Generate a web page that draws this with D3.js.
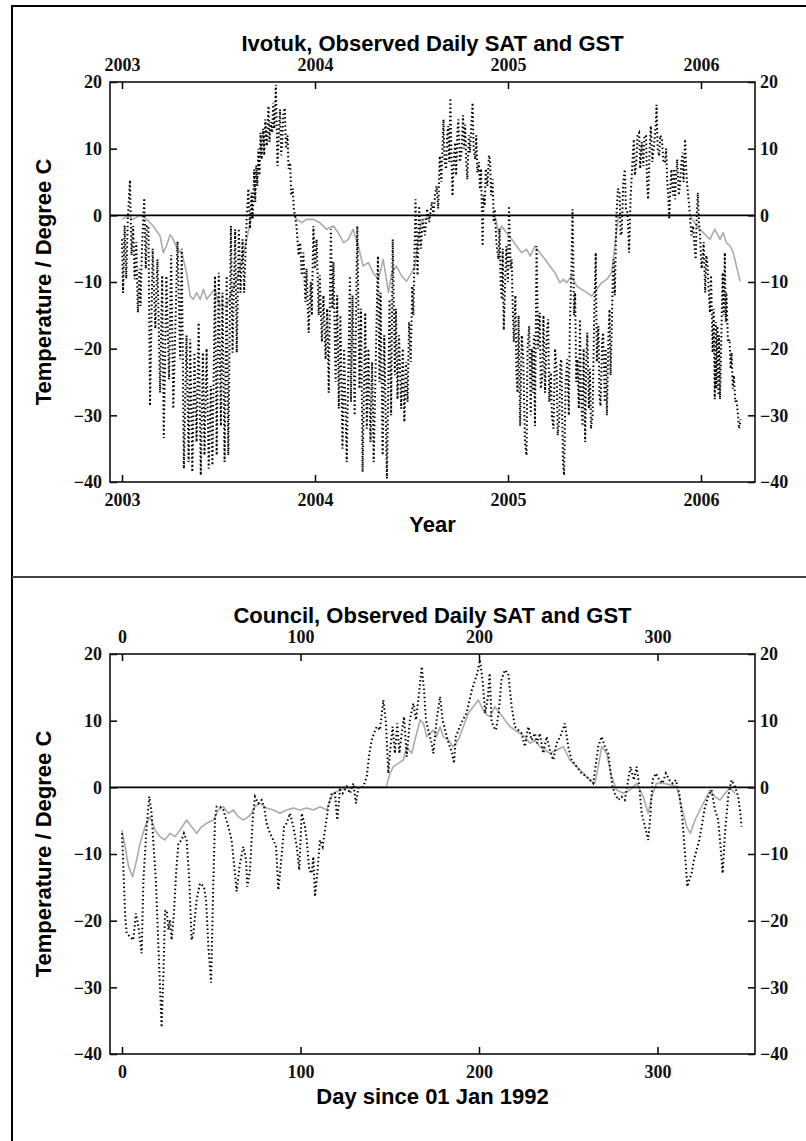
<!DOCTYPE html>
<html>
<head>
<meta charset="utf-8">
<script src="https://cdn.jsdelivr.net/npm/d3@7/dist/d3.min.js"></script>
<style>
  html, body { margin: 0; padding: 0; background: #fff; }
  svg { display: block; }
</style>
</head>
<body>
<svg id="chart" width="806" height="1141"></svg>
<script>
// ---- Ivotuk: [day since 1 Jan 2003, °C] ----
// Surface air temperature (daily swings)
const ivotukSat = [
  [0,-3.6],[2,-11.6],[5,-1.5],[8,-9.5],[11,-0.6],[15,5.3],[18,-6],[21,-1.6],[24,-9.6],[27,-4],[30,-14.6],[33,-8],[35,-13.6],[38,-4.6],[42,2.6],[45,-8],[47,-1.6],
  [50,-1.6],[53,-28.6],[58,-5],[63,-17],[67,-6.6],[72,-26.6],[76,-9],[79,-33.4],[84,-9.1],[89,-24.6],[93,-6],[97,-29],[105,-3.9],[110,-21.6],[113,-5],[117,-38],
  [122,-18],[126,-37],[129,-18.6],[133,-38.5],[137,-20.6],[141,-34],[145,-16.1],[149,-39],[153,-20.6],[156,-36],[160,-20],[164,-38],[168,-25.6],[171,-37.5],
  [176,-9.1],[179,-36],[183,-8.6],[187,-31.6],[190,-11.6],[194,-37],[198,-9.1],[201,-36],[206,-1.6],[209,-20.6],[214,-2.1],[217,-20.6],[221,-2],[224,-11.6],[228,-3.6],[231,-11.6],
  [236,0],[239,4],[242,-2],[245,3.4],[247,-0.6],[250,6.9],[252,2],[254,7.5],[256,4.4],[258,10],[260,6],[262,12.4],[264,8.4],[267,13],[269,9],[271,14.4],[274,10.4],[277,16.4],[279,11],[281,14],[284,12.4],[286,16.9],[288,13],[291,19.6],[293,12],[294,7.4],[297,13],[299,15.9],[301,9],[303,10.9],[305,15],[308,16.1],[310,10],[313,12],[315,7],[318,7.9],[320,3],[323,4],[325,1],[327,0],
  [330,-1.6],[334,-6],[337,-4.1],[340,-9],[343,-5.6],[347,-13],[349,-8],[353,-17.6],[357,-10],[359,-15],[362,-1.6],[365,-8],[368,-3.6],[372,-15],[374,-9],[378,-19],[381,-12],[385,-21.6],[388,-14],[391,-26.6],
  [395,-2.1],[398,-14],[400,-7],[404,-25],[407,-12],[410,-29],[413,-15],[417,-35],[420,-20],[425,-37],[431,-9.1],[433,-28],[436,-12],[440,-30],[445,-1.6],[449,-26],[452,-14],[455,-38.5],
  [460,-14.6],[463,-32],[466,-20],[470,-34],[473,-22],[476,-37],[484,-6.1],[487,-25],[489,-11.6],[493,-36],[496,-18],[501,-39.5],[506,-12.6],[509,-30],[512,-3.6],[516,-24],[518,-14],[521,-27.6],
  [524,-18],[528,-29],[531,-20],[534,-31],[537,-22],[540,-28],[543,-16],[546,-22],[549,-10.6],[551,-15],[555,2.4],[559,-9],[562,1.4],[565,-5],[569,-0.6],[573,-3],[577,1],[581,-1],[586,2],[589,0],
  [592,3],[595,4.4],[598,1],[601,8.9],[604,5],[608,14.4],[610,8],[613,6.9],[615,12],[617,13.4],[619,8],[621,17.6],[623,9],[625,2.9],[628,9],[630,10.9],[632,6],[634,12],[636,14.4],[639,8],[642,9.4],[645,15],[647,10],[649,13.6],[651,8],[653,5.4],[656,12],[658,9.4],[661,14],[663,16.9],[665,10],[668,8.4],[670,12],[672,6.4],[675,8],[677,3.9],[679,7],[682,-4.6],[684,3],[686,1.4],[688,7],[691,4.4],[694,9],[696,8.4],[698,3],[701,5.4],[703,-1],[705,0.9],
  [708,-4],[712,-6.6],[714,-2],[716,-10],[718,-12.6],[720,-5],[722,-17.2],[725,-9],[727,-4.6],[730,-10],[732,1.4],[735,-8],[737,-6.6],[739,-14],[741,-19],[744,-12],[746,-24],[748,-26.6],[750,-15],[753,-31.6],[756,-18],[759,-21.6],[762,-34],[765,-36],[767,-20],[770,-16.6],[773,-30],[775,-20],[777,-26.6],[779,-18],[781,-31.6],[784,-4.6],
  [787,-20],[790,-14.6],[792,-26],[795,-24],[797,-15],[800,-26.6],[803,-18],[806,-15.6],[808,-28],[811,-23.6],[813,-30],[816,-32],[819,-20],[822,-23],[824,-33],[827,-30.6],[829,-22],[831,-21.6],[834,-37],[836,-39],[839,-25],[842,-21.6],[845,-30],[847,-16.6],[850,-8],[852,0.9],
  [855,-15],[857,-11.6],[859,-25],[861,-21.6],[864,-29],[866,-15.6],[868,-27],[871,-31.6],[873,-20],[876,-34],[878,-22],[880,-17.6],[883,-29],[885,-23],[887,-32],[890,-30],[893,-15],[896,-5.6],[898,-22],[901,-16.6],[903,-27],[905,-28.6],[908,-19],[910,-17.6],[913,-28],[915,-20],[917,-30],[920,-18],[922,-14.1],[924,-24],[926,-17.6],[928,-10],[930,-6.6],[932,-12],[935,0],
  [938,4],[941,3.4],[943,-3],[945,-2.6],[948,5],[951,6.9],[953,1],[956,0.4],[958,-3],[959,-5.6],[962,3],[964,5.9],[966,9],[968,11.4],[970,6],[973,8.4],[975,12],[978,12.4],[980,7],[983,11],[986,7.4],[988,12],[991,11.9],[993,5],[995,2.4],[998,10],[1000,13.4],[1003,8],[1006,10.4],[1009,13],[1011,16.6],[1013,10],[1016,8.9],[1018,12],[1021,11.4],[1024,8],[1027,7.9],[1029,10],[1031,5.4],[1033,3],[1035,-0.6],[1037,4],[1039,6.9],[1042,3],[1044,7],[1046,2.4],[1048,6],[1050,8.4],[1053,3],[1055,4.4],[1058,8],[1060,9.4],[1062,5],[1065,11.4],[1067,7],[1069,4.4],[1072,2],[1074,0],
  [1077,-3],[1080,-1.6],[1083,-5],[1085,-6.6],[1087,0],[1089,3.4],[1091,-1],[1093,-2.6],[1096,-8],[1098,-6.6],[1100,-4],[1103,-11.6],[1105,-6],[1107,-7.1],[1110,-12],[1112,-14.6],[1114,-9],[1117,-20.6],[1119,-14],[1121,-27.6],[1123,-16],[1124,-26],[1126,-16.6],[1128,-27],[1129,-18],[1131,-27.6],[1133,-20],[1136,-8.6],[1138,-15],[1140,-5.6],[1142,-16],[1143,-11.6],[1146,-19],[1149,-18.6],[1151,-23],[1153,-20.6],[1155,-26],[1157,-24],[1160,-28],[1162,-27.6],[1165,-30],[1167,-32],[1170,-30.6]
];
// Ground surface temperature
const ivotukGst = [
  [0,-0.6],[12,0],[21,-0.6],[34,0],[47,-0.6],[59,-1.6],[72,-3.1],[78,-5.6],[84,-4.6],[91,-2.9],[97,-3.6],[105,-5.1],[113,-5.6],[122,-8.6],[129,-12.1],[135,-12.6],[141,-11.6],[148,-12.6],[154,-11.1],[160,-12.6],[170,-11.6],[176,-11.1],[182,-13.1],[188,-13.6],[198,-13.6],[207,-11.6],[217,-9.6],[226,-7.1],[236,-3.6],[245,0],
  [327,0],[330,-0.6],[340,-1.1],[349,-0.6],[362,-0.6],[374,-1.1],[387,-2.1],[400,-1.6],[409,-2.6],[419,-4.1],[428,-3.6],[437,-2.1],[447,-4.6],[456,-7.6],[466,-7.1],[475,-8.6],[485,-9.6],[494,-6.6],[504,-11.6],[510,-8.6],[519,-7.6],[529,-9.1],[538,-9.9],[548,-8.6],[554,-7.6],[560,-3.6],[567,-0.6],[573,-0.6],[582,0],
  [705,0],[712,-2.6],[718,-1.6],[727,-2.6],[737,-3.6],[746,-4.6],[756,-5.6],[765,-5.1],[772,-6.1],[781,-4.6],[790,-5.6],[800,-6.6],[809,-7.6],[819,-8.6],[828,-10.1],[835,-9.6],[841,-10.1],[850,-9.1],[860,-10.6],[869,-11.1],[879,-11.6],[888,-12.1],[898,-11.1],[907,-10.1],[917,-9.6],[926,-8.6],[932,-4.6],[939,0],
  [1074,0],[1087,-1.6],[1099,-2.6],[1112,-3.6],[1121,-2.1],[1131,-3.6],[1137,-2.6],[1143,-4.1],[1150,-4.6],[1156,-5.6],[1162,-7.6],[1169,-9.9]
];

// ---- Council: [day since 1 Jan 1992, °C] ----
const councilSat = [
  [0,-6.9],[0.7,-11.4],[1.7,-18.9],[2.6,-21.9],[4.5,-22.4],[6.3,-22.9],[7.8,-18.9],[9.2,-20.9],[11,-24.9],[12,-13.9],[13.8,-5.9],[15.3,-1.4],[16.6,-3.9],[17.6,-8.4],[19,-14],[20.4,-23.9],[22.2,-36],[23.2,-28],[24.1,-18.6],[25,-18.4],[26,-21.4],[26.9,-19.9],[27.8,-22.9],[29.1,-18.9],[30.3,-12.9],[31.6,-8.4],[33.4,-7.9],[34.7,-6.9],[36.2,-7.9],[37.7,-13.9],[39,-22.9],[40,-21.9],[41.8,-16.9],[43.7,-14.4],[45.9,-14.9],[47.1,-16.9],[48.4,-23.9],[49.9,-29.3],
  [51.2,-13.9],[52.1,-4.9],[53,-2.9],[54.9,-2.9],[56.8,-3.4],[59.6,-5.9],[61.4,-7.9],[63.3,-12.9],[64.2,-15.6],[66.1,-11.4],[68,-8.9],[69.5,-10.9],[70.2,-14.9],[71.7,-12.4],[73.2,-4.9],[74.5,-1.4],[76.4,-2.4],[78.2,-1.9],[79.6,-2.9],[81,-5.4],[82.9,-6.9],[84.8,-7.9],[86.3,-8.9],[87.6,-15.4],[89.4,-10.4],[90.8,-5.9],[92.2,-5.4],[94.1,-3.9],[96,-5.9],[97.9,-8.9],[99.3,-12.4],
  [100.7,-3.9],[102.5,-5.9],[103.5,-7.9],[104.9,-12.4],[106.3,-12.9],[107.2,-10.4],[108.1,-16.4],[109.4,-12.9],[110.9,-7.9],[112.4,-8.9],[113.7,-6.4],[115.6,-2.9],[117.5,-0.9],[119.3,-0.9],[120.6,-4.9],[122.1,-0.4],[123.6,-0.9],[125.9,0.1],[127.7,-0.9],[129.6,0.6],[131.1,-2.4],[132.4,-0.1],[135.2,0.1],[137.1,1.6],[138.6,5.1],[139.9,7.1],[141.2,8.1],[142.7,9.1],[144.5,8.6],[146.4,13.1],[147.9,9.6],[149.2,2.1],
  [150.1,5.1],[151.6,9.1],[152.9,5.1],[154.2,9.6],[155.4,5.1],[156.7,8.1],[158,10.6],[159.5,4.6],[161.3,10.1],[163.2,12.6],[164.7,10.1],[166.6,14.6],[167.9,18.1],[169.2,14.6],[170.3,10.1],[171.6,8.6],[173.5,6.6],[174.4,5.1],[176.3,10.1],[178.2,13.6],[179.6,10.1],[181,8.6],[183,6.6],[185,5.1],[186,3.6],[187,7.6],[190,9.6],[193,11.1],[196,14.6],[199,17.1],[200.5,19.1],
  [202,16.1],[203.5,11.1],[205,13.6],[206,17.1],[207,10.1],[208,9.1],[209.5,8.6],[211,11.1],[212.6,16.1],[214.5,17.6],[216.4,17.1],[218.3,12.1],[220.1,9.1],[222,8.6],[223.9,8.1],[225.7,6.1],[227.6,9.1],[229.5,7.1],[231.3,8.1],[232.6,6.6],[234.1,8.1],[236,5.1],[237.9,7.6],[239.7,5.6],[241.6,4.1],[243.5,6.6],[246.3,8.1],[248.1,9.6],[250,6.1],
  [251.9,4.1],[254.7,3.1],[257.5,2.1],[260.3,1.6],[262.1,1.1],[264,0.6],[265,2.6],[266.8,6.1],[268.7,7.6],[270.5,6.1],[272.4,5.1],[273.3,3.1],[274.8,0.1],[276.1,-0.9],[278,-1.9],[279.9,-1.4],[281.7,-1.9],[283.6,1.1],[284.9,3.1],[286.8,1.1],[288.3,3.1],[289.8,0.1],[291.1,-3.9],[293,-5.9],[294.8,-7.9],[296.1,-3.9],[297.2,1.1],[299.1,2.1],
  [301,1.1],[302.8,0.6],[304.7,2.1],[306.6,1.1],[308.4,0.6],[310.3,1.1],[312.2,-0.9],[314,-4.9],[315.4,-9.9],[316.7,-14.9],[317.8,-13.9],[319.1,-12.9],[320.4,-10.9],[321.9,-9.4],[323.4,-7.9],[324.7,-5.9],[326.6,-2.9],[328.4,-1.4],[330.3,-0.4],[332.2,-3.4],[334,-4.9],[335.3,-8.9],[336.5,-12.9],[337.8,-6.9],[339.6,-1.4],[341.5,1.1],[343.4,0.1],[345.2,-1.4],[346.2,-3.4],[347.1,-5.9]
];
const councilGst = [
  [0,-6.4],[1.7,-8.9],[3.7,-11.9],[6,-13.4],[8.2,-10.9],[10.1,-8.4],[12.9,-5.9],[15.7,-4.4],[18.5,-6.4],[21.3,-7.4],[24.1,-7.9],[26.9,-6.9],[29.7,-7.4],[32.5,-6.4],[36.2,-4.9],[39,-5.9],[41.8,-6.9],[44.6,-5.9],[47.4,-5.4],[51.2,-4.9],[54,-3.4],[56.8,-2.9],[59.6,-3.9],[62.4,-3.4],[65.2,-4.4],[68,-4.9],[70.8,-4.4],[72.6,-3.9],[74.5,-2.9],[77.3,-2.4],
  [81,-3.1],[84.8,-3.4],[88.5,-3.9],[92.2,-3.4],[96,-3.1],[99.7,-3.4],[103.5,-3.1],[107.2,-3.4],[111,-2.9],[114.7,-3.4],[116.5,-1.9],[118.4,-0.9],[122.1,-0.4],[125.9,-0.1],[130,0],[148,0],[150.1,2.1],[152,3.1],[154.8,3.6],[157.6,4.1],[159.5,6.1],[162.3,5.1],[164.1,7.1],[167,10.1],[168.9,9.6],[170.7,7.6],[172.6,8.1],[174.4,8.6],[176.3,7.6],[178.2,9.1],
  [180,7.6],[182.8,7.1],[185.6,6.1],[188.4,7.1],[191.2,9.1],[194,11.1],[196.8,12.1],[199.6,13.1],[201.4,12.1],[203.3,11.1],[206.1,10.6],[208.9,12.1],[211.7,11.1],[214.5,10.1],[217.3,9.1],[220.1,8.6],[222.9,8.1],[225.7,7.6],[228.5,6.6],[231.3,7.1],[234.1,6.1],[236.9,5.6],[239.7,5.1],[243.5,5.6],[247.2,6.1],[250.9,4.1],[254.7,3.1],[258.4,2.1],[262.1,1.1],[264.9,0.6],
  [266.8,3.1],[268.7,6.1],[271.5,5.1],[274.3,1.6],[277.1,-0.4],[280.8,-0.9],[284.6,-0.4],[288.3,0.6],[292,-1.4],[294.8,-3.9],[296.7,-1.4],[299.5,0.6],[303.2,0.6],[307,0.4],[310.7,0.1],[313.5,-2.9],[316.3,-5.9],[318.5,-6.9],[321,-4.9],[323.8,-3.4],[326.6,-1.9],[329.4,-0.4],[332.2,-1.4],[335,-1.9],[337.8,-0.9],[340.6,-0.1],[343.4,-0.9]
];

// ---- Axis ticks ----
const yearTicks = [2003, 2004, 2005, 2006];
const dayTicks = [0, 100, 200, 300];
const tempTicks = [20, 10, 0, -10, -20, -30, -40];

const svg = d3.select('#chart');
const plotLeft = 110, plotRight = 755, panelHeight = 400;
const sansFont = '"Liberation Sans", Arial, Helvetica, sans-serif';
const serifFont = '"Liberation Serif", "Times New Roman", serif';

// Page frame and panel divider
svg.append('path')
  .attr('d', 'M12,1141V6H806')
  .attr('fill', 'none').attr('stroke', '#000').attr('stroke-width', 2);
svg.append('line')
  .attr('x1', 12).attr('x2', 806).attr('y1', 577).attr('y2', 577)
  .attr('stroke', '#444').attr('stroke-width', 2.2);

function styleAxis(g) {
  g.select('.domain').remove();
  g.selectAll('.tick line').attr('stroke', '#000').attr('stroke-width', 1.5);
  g.selectAll('.tick text')
    .attr('font-family', serifFont).attr('font-weight', 'bold')
    .attr('font-size', 18).attr('fill', '#111');
}

function drawPanel(cfg) {
  const top = cfg.top, bottom = top + panelHeight;
  const x = d3.scaleLinear().domain(cfg.xDomain).range([plotLeft, plotRight]);
  const y = d3.scaleLinear().domain([-40, 20]).range([bottom, top]);
  const g = svg.append('g');
  const line = d3.line().x(d => x(cfg.toX(d[0]))).y(d => y(d[1]));

  // ground surface temperature (grey solid)
  g.append('path')
    .datum(cfg.gst)
    .attr('d', line)
    .attr('fill', 'none').attr('stroke', '#ababab')
    .attr('stroke-width', 1.6).attr('stroke-linejoin', 'round');

  // zero reference line
  g.append('line')
    .attr('x1', plotLeft).attr('x2', plotRight)
    .attr('y1', y(0)).attr('y2', y(0))
    .attr('stroke', '#000').attr('stroke-width', 1.6);

  // surface air temperature (black dotted)
  g.append('path')
    .datum(cfg.sat)
    .attr('d', line)
    .attr('fill', 'none').attr('stroke', '#000')
    .attr('stroke-width', 2).attr('stroke-dasharray', '1.5,2.6');

  // axes with inward ticks on all four sides
  const fmt = d3.format('d');
  g.append('g').attr('transform', `translate(${plotLeft},0)`)
    .call(d3.axisLeft(y).tickValues(tempTicks).tickSize(-7).tickPadding(8).tickFormat(fmt))
    .call(styleAxis);
  g.append('g').attr('transform', `translate(${plotRight},0)`)
    .call(d3.axisRight(y).tickValues(tempTicks).tickSize(-7).tickPadding(5).tickFormat(fmt))
    .call(styleAxis);
  g.append('g').attr('transform', `translate(0,${top})`)
    .call(d3.axisTop(x).tickValues(cfg.xTicks).tickSize(-7).tickPadding(11).tickFormat(fmt))
    .call(styleAxis);
  g.append('g').attr('transform', `translate(0,${bottom})`)
    .call(d3.axisBottom(x).tickValues(cfg.xTicks).tickSize(-7).tickPadding(11).tickFormat(fmt))
    .call(styleAxis);

  // plot frame
  g.append('rect')
    .attr('x', plotLeft).attr('y', top)
    .attr('width', plotRight - plotLeft).attr('height', panelHeight)
    .attr('fill', 'none').attr('stroke', '#111').attr('stroke-width', 1.6);

  const cx = (plotLeft + plotRight) / 2;
  g.append('text')
    .attr('x', cx).attr('y', top - 31)
    .attr('text-anchor', 'middle')
    .attr('font-family', sansFont).attr('font-weight', 'bold').attr('font-size', 22)
    .text(cfg.title);
  g.append('text')
    .attr('x', cx).attr('y', bottom + 50)
    .attr('text-anchor', 'middle')
    .attr('font-family', sansFont).attr('font-weight', 'bold').attr('font-size', 22)
    .text(cfg.xLabel);
  g.append('text')
    .attr('transform', `translate(43,${(top + bottom) / 2}) rotate(-90)`)
    .attr('text-anchor', 'middle').attr('dy', '0.35em')
    .attr('font-family', sansFont).attr('font-weight', 'bold').attr('font-size', 22)
    .text('Temperature / Degree C');
}

// Ivotuk: x axis in calendar years
drawPanel({
  top: 82,
  xDomain: [2003 - 12 / 193, 2003 + 633 / 193],
  xTicks: yearTicks,
  toX: d => 2003 + d / 365,
  sat: ivotukSat, gst: ivotukGst,
  title: 'Ivotuk, Observed Daily SAT and GST',
  xLabel: 'Year'
});

// Council: x axis in days
drawPanel({
  top: 654,
  xDomain: [-12 / 1.785, 633 / 1.785],
  xTicks: dayTicks,
  toX: d => d,
  sat: councilSat, gst: councilGst,
  title: 'Council, Observed Daily SAT and GST',
  xLabel: 'Day since 01 Jan 1992'
});
</script>
</body>
</html>
